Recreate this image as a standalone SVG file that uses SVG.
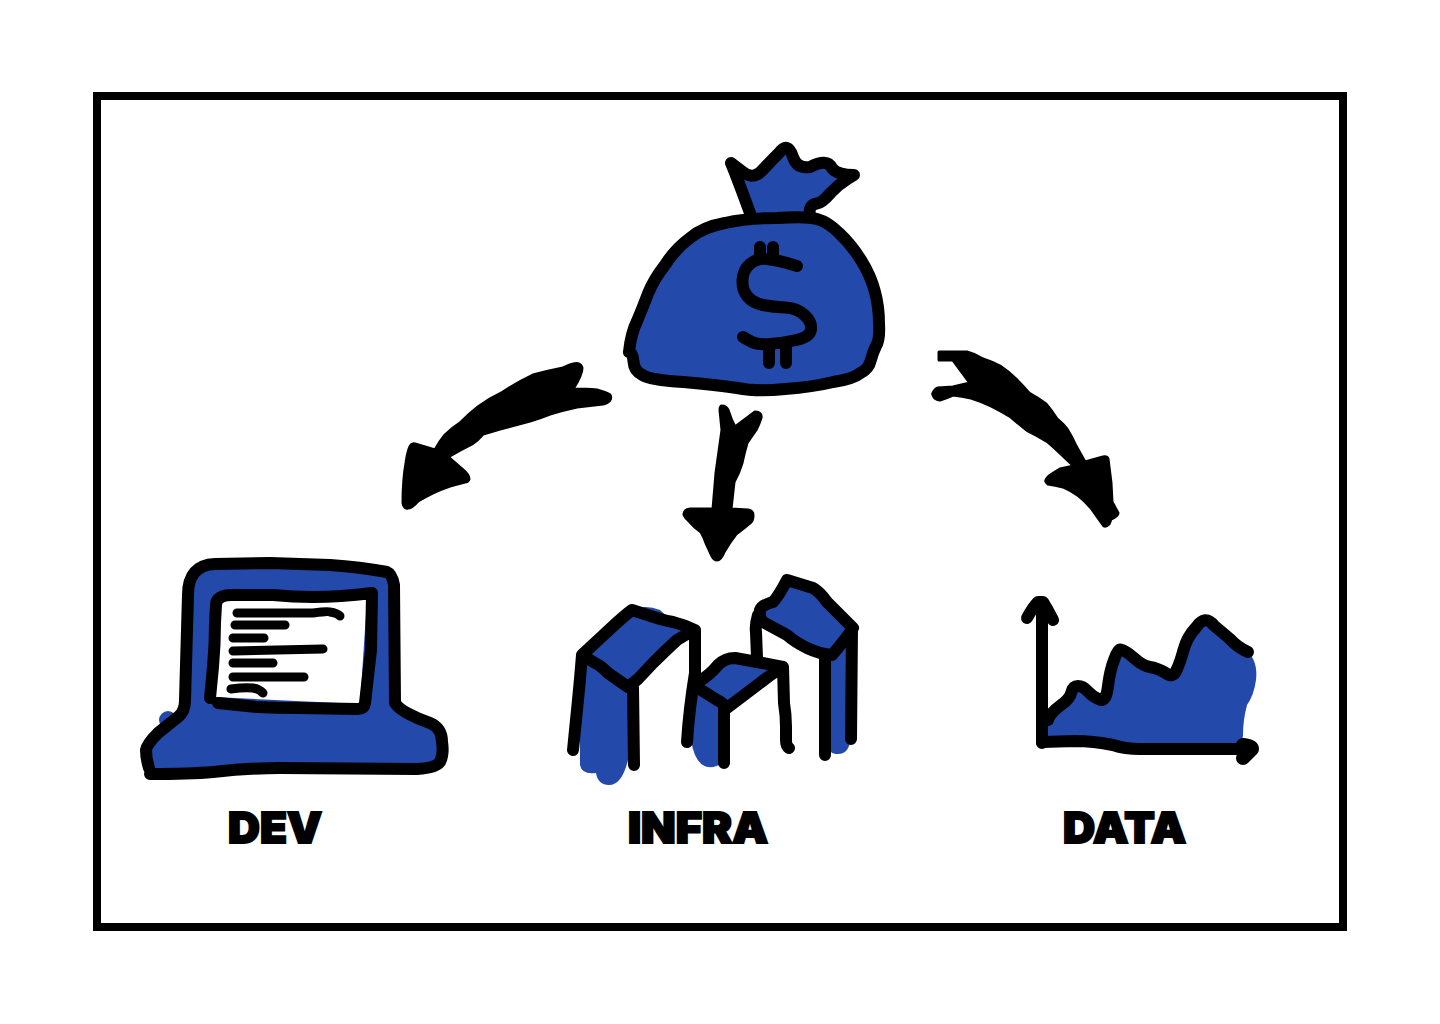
<svg xmlns="http://www.w3.org/2000/svg" width="1440" height="1024" viewBox="0 0 1440 1024">
<style>
.s{fill:none;stroke:#000;stroke-width:12;stroke-linecap:round;stroke-linejoin:round}
.f{fill:#2349ab;stroke:#000;stroke-width:12;stroke-linecap:round;stroke-linejoin:round}
.t{stroke-width:9}
.b{fill:#2349ab;stroke:none}
.w{fill:#fff;stroke:none}
.a{fill:#000;stroke:#000;stroke-width:3;stroke-linejoin:round}
.l{font-family:Inter,"Liberation Sans",sans-serif;font-weight:900;font-size:42px;fill:#000;stroke:#000;stroke-width:2}
</style>
<rect width="1440" height="1024" fill="#fff"/>
<rect id="frame" x="97" y="96" width="1246" height="831" fill="none" stroke="#000" stroke-width="8"/>
<g id="connectors">
<path id="arrow-dev" class="a" d="M570 365Q580 361 582 368Q582 375 573 389Q587 389 597 390Q607 393 610 395Q613 401 603 404L577 407Q563 410 550 414Q540 418 530 421L500 429Q490 432 483 434Q478 440 472 444Q460 450 448 457L463 470Q469 475 469 479Q468 482 465 482Q457 484 450 486Q441 489 433 493Q425 497 418 501Q412 508 408 508Q404 509 403 503Q403 480 406 463Q407 455 409 449Q411 443 415 444L435 450Q440 441 445 435Q452 428 460 423Q469 414 478 407Q490 398 503 392Q518 382 533 375Q548 371 563 368Z"/>
<path id="arrow-infra" class="a" d="M722 406Q726 406 728 410Q731 420 735 427L755 412Q762 412 761 418Q759 424 756 430Q751 437 747 443Q744 453 742 463Q739 473 734 482L731 509L748 510Q753 511 753 515Q753 520 751 522Q744 528 736 534Q729 543 724 552Q721 560 717 560Q714 560 712 556L706 543Q704 537 701 532Q694 527 688 520Q683 515 684 514Q685 509 690 509L713 509L716 473L722 430L720 410Q720 406 722 406Z"/>
<path id="arrow-data" class="a" d="M939 352L967 352Q975 354 983 359Q992 362 1000 366Q1009 372 1016 379Q1023 386 1029 393Q1038 398 1046 404Q1052 411 1057 419Q1063 424 1067 429Q1072 437 1076 446L1085 462L1103 457Q1107 456 1108 459L1111 483L1112 502L1118 513Q1118 516 1111 519Q1110 522 1109 524Q1106 527 1104 526Q1098 518 1091 508Q1085 501 1079 496Q1072 491 1063 487Q1055 485 1048 484Q1045 482 1046 480Q1047 478 1049 476Q1055 472 1060 469L1074 466Q1067 460 1061 454Q1054 447 1048 442Q1038 436 1028 431Q1019 424 1011 417Q1001 411 991 406Q981 401 971 398Q962 396 953 395Q946 398 940 400Q935 399 934 397Q932 394 933 393Q935 389 938 388L953 387L970 383L953 360L939 360Z"/>
</g>
<g id="node-money">
<path class="f" d="M750 213Q738 180 731 163L741.5 171Q753 181 763 169.5Q772 160 779 153Q788 141 793 157Q797 169 810 167Q827 158 832 168Q837 175 854 175L847.5 179Q838 185 831 192.5Q822 203 817 203.5Q808 205 810 215"/>
<path class="f" d="M629 352Q631 333 637.5 320Q643 307 648 293.5Q654 279 665 265Q675 249 690 238Q703 227 725 223Q747 218 777 218Q807 216 817 219Q828 222 839 233Q851 244 861 260Q871 276 875 292Q879 307 879 323.5Q880 340 876 346Q873 352 871 359.5Q869 369 860.5 373Q853 379 833 382Q813 387 785 389Q757 392 737 388Q717 385 683.5 382Q650 380 642.5 375Q634 371 633.5 361.5Q633 353 629 352Z"/>
<path class="s" d="M797 266L787 263Q777 260 767 259Q757 258 750 264Q743 270 742.5 280Q742 290 747.5 296.5Q753 303 763 305Q773 307 785 307.5Q797 308 804.5 315Q812 322 811 329.5Q810 337 796.5 340Q783 343 770 344Q757 345 750 341Q743 337 743 337M760 247V258M773 247V258M769 347V363M786 347V363"/>
</g>
<g id="node-dev">
<circle class="b" cx="168" cy="720" r="9"/>
<path class="f" d="M149 768Q146 758 146 750Q147 744 158 733L178 717Q185 712 185 700L188 595Q188 565 215 564L270 563 330 565Q360 567 387 572Q392 574 394 585L395 703Q398 708 407 713Q418 719 430 723Q442 728 442 742Q444 754 440 762Q436 768 417 769L280 768Q250 768 213 772Q190 774 150 774"/>
<path class="w" d="M220 600L367 599 360 704 215 697Z"/>
<path class="s" d="M210 698L213 667Q215 645 215 623L216 605Q216 595 232 595L273 595Q293 597 313 597Q340 597 372 593L371 650L365 703Q364 709 358 709L297 708Q277 708 257 707L218 703"/>
<path class="s t" d="M237 613L313 613Q328 611 330 612Q337 613 340 616M235 625H285M233 638H264M233 651L323 649M233 663H273M233 677H304M231 689Q245 687 253 688Q259 689 263 693"/>
<text class="l" x="228" y="843" textLength="94" lengthAdjust="spacingAndGlyphs">DEV</text>
</g>
<g id="node-infra">
<path class="b" d="M582 655L632 610Q645 604 660 610L673 622 695 630 677 640 653 663 628 687 628 760Q622 785 609 785Q598 785 596 773Q582 775 580 765L580 733Z"/>
<path class="b" d="M698 682L710 668 730 658 757 662 783 667 760 683 727 708 723 763Q715 768 708 767Q695 765 691 740L697 693Z"/>
<path class="b" d="M760 610L773 602 787 580 813 588 827 602 853 628 850 742Q848 754 838 754Q833 754 831 752L831 660 807 648 787 635 763 622Z"/>
<path class="s" d="M582 655L610 629Q625 615 632 610L660 619Q667 621 673 622Q685 625 695 630Q685 635 677 640Q665 651 653 663L638 679 628 687Q618 680 608 673Q600 665 595 663L582 655Q580 680 578 700L573 750M633 687L634 765M695 630L695 673Q689 710 687 742"/>
<path class="s" d="M698 682Q710 675 718 665Q725 658 735 658L757 662 783 667Q770 675 760 683L727 708Q722 702 717 700L698 688M724 708V763M783 667L784 703Q786 715 786 727L786 740Q786 746 789 748"/>
<path class="s" d="M760 610Q762 605 773 602Q778 597 787 580L813 588Q820 592 827 602L853 628Q845 640 832 655Q820 654 807 648Q795 642 787 635L763 622Q759 618 760 610M758 615Q755 625 756 632L757 658M825 657V755M852 628L851 739"/>
<text class="l" x="628" y="843" textLength="140" lengthAdjust="spacingAndGlyphs">INFRA</text>
</g>
<g id="node-data">
<path class="b" d="M1048 720Q1050 713 1061 705Q1070 699 1071.5 692Q1073 686 1078 686Q1083 686 1088 691.5Q1093 697 1099.5 699.5Q1106 703 1108 686Q1110 670 1114 660Q1118 648 1121.5 650Q1125 650 1134 658Q1143 666 1150 667Q1157 668 1165 672.5Q1173 679 1176.5 670Q1180 663 1183.5 650Q1187 637 1196 627.5Q1205 614 1214 625.5Q1223 633 1230 639Q1237 647 1248 652Q1258 662 1256 680Q1254 695 1247 705Q1243 720 1243 735L1242 742 1237 747 1045 745Z"/>
<path class="s" d="M1042 603V743M1027 618Q1033 607 1038 602L1043 602Q1048 610 1053 620"/>
<path class="s" d="M1042 742L1075 741Q1093 741 1113 745Q1125 749 1140 749L1243 749"/>
<path class="s" style="stroke-width:14" d="M1243 745Q1252 746 1252 749Q1248 753 1243 758"/>
<path class="s" d="M1048 720Q1050 713 1061 705Q1070 699 1071.5 692Q1073 686 1078 686Q1083 686 1088 691.5Q1093 697 1099.5 699.5Q1106 703 1108 686Q1110 670 1114 660Q1118 648 1121.5 650Q1125 650 1134 658Q1143 666 1150 667Q1157 668 1165 672.5Q1173 679 1176.5 670Q1180 663 1183.5 650Q1187 637 1196 627.5Q1205 614 1214 625.5Q1223 633 1230 639Q1237 647 1248 652"/>
<text class="l" x="1063" y="843" textLength="123" lengthAdjust="spacingAndGlyphs">DATA</text>
</g>
</svg>
